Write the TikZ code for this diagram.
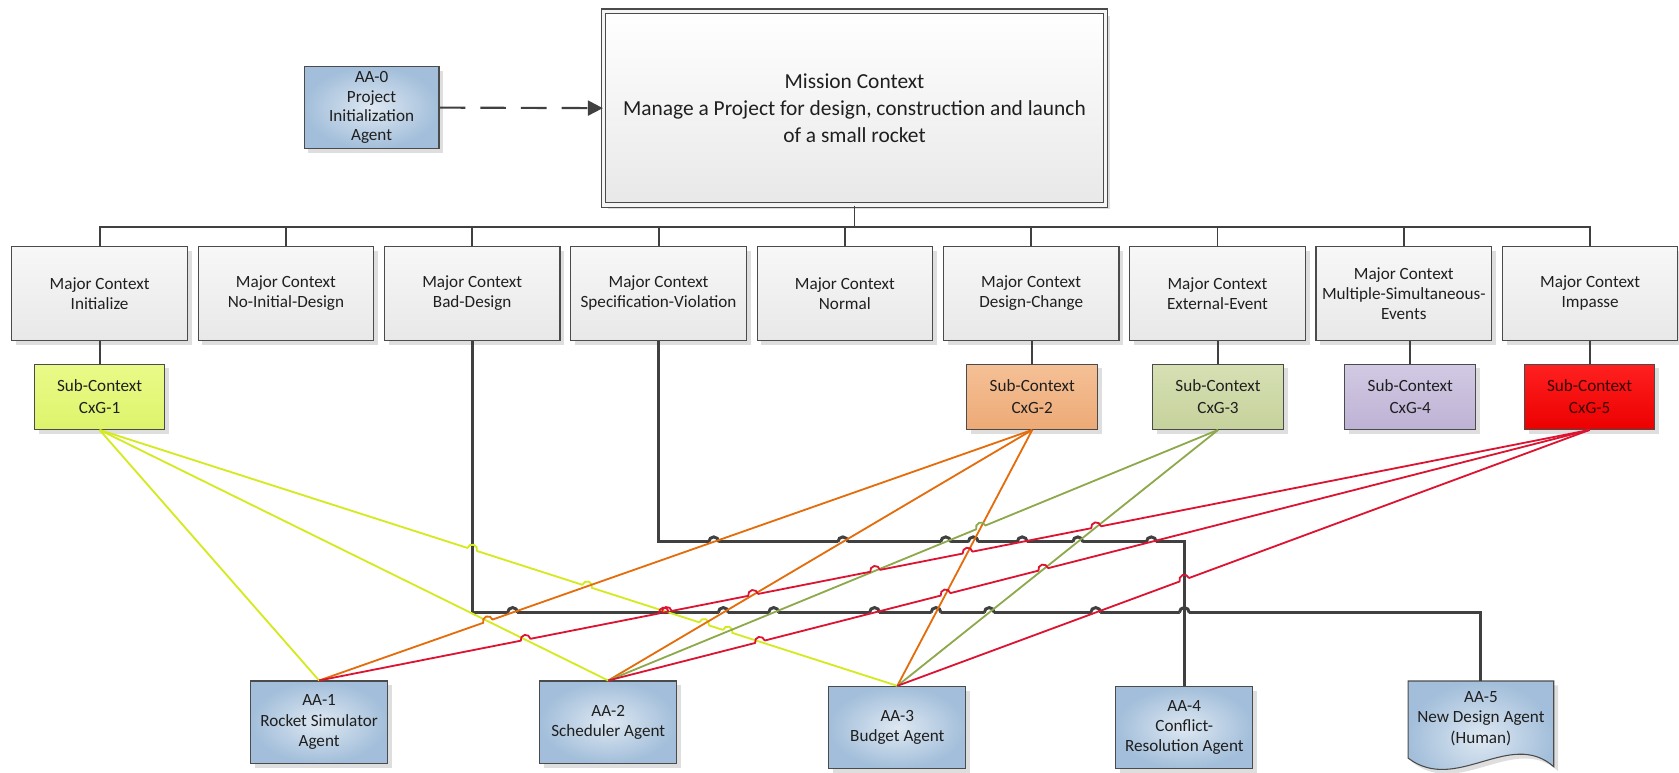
\documentclass[tikz,border=0pt]{standalone}
\usepackage{fontspec}
\setmainfont{Carlito}
\usetikzlibrary{shadows,intersections,calc,arrows.meta}
\definecolor{dk}{RGB}{64,64,64}
\definecolor{bdr}{RGB}{75,75,75}
\definecolor{ylw}{RGB}{212,234,30}
\definecolor{org}{RGB}{228,108,10}
\definecolor{grn}{RGB}{142,168,76}
\definecolor{rd}{RGB}{220,20,50}
\definecolor{bluein}{RGB}{222,232,242}
\definecolor{blueout}{RGB}{162,190,218}
\definecolor{yA}{RGB}{234,250,136}
\definecolor{yB}{RGB}{222,244,108}
\definecolor{oA}{RGB}{245,192,150}
\definecolor{oB}{RGB}{237,170,118}
\definecolor{gA}{RGB}{214,224,180}
\definecolor{gB}{RGB}{198,210,156}
\definecolor{pA}{RGB}{210,202,228}
\definecolor{pB}{RGB}{190,178,212}
\definecolor{rA}{RGB}{255,32,32}
\definecolor{rB}{RGB}{236,0,0}
\definecolor{rtext}{RGB}{60,0,0}
\newcommand\hopr{2.3pt}
\newcommand\ix[2]{\path[name intersections={of=#1 and #2, by={#1x#2}}];}
\newcommand\hopline[5]{%
  \begin{scope}
    \clip (0,800) -- (1700,800) -- (1700,-80) -- (0,-80) -- cycle
      \foreach \h in {#5} {(\h) ++(\hopr,0pt) arc[start angle=0,end angle=-360,radius=\hopr]};
    \draw[#1] #2;
  \end{scope}
  \foreach \h in {#5}{
    \draw[#1] let \p1=($(#4)-(#3)$), \n1={atan2(\y1,\x1)} in
      ($(\h)+(\n1+180:\hopr)$) arc[start angle=\n1+180, end angle=\n1, radius=\hopr];
  }%
}
\tikzset{
  box/.style={draw=bdr, line width=0.5pt, inner sep=0pt, align=center,
    font=\fontsize{8}{9.3}\selectfont, text=black!88,
    general shadow={fill=black!13, shadow xshift=2pt, shadow yshift=-2pt}},
  major/.style={box, minimum width=82pt, minimum height=44pt, top color=white!97!black, bottom color=black!9},
  sub/.style={box, minimum width=61pt, minimum height=30.5pt, font=\fontsize{8}{10}\selectfont},
  agent/.style={box, minimum width=64pt, minimum height=38.5pt, inner color=bluein, outer color=blueout, font=\fontsize{8}{9.5}\selectfont},
  tree/.style={draw=dk, line width=0.9pt},
  dline/.style={draw=dk, line width=1.4pt},
  cl/.style={line width=0.85pt},
}
\begin{document}
\begin{tikzpicture}[x=0.5pt,y=-0.5pt]
\useasboundingbox (0,0) rectangle (1568,721);

% mission and AA-0
\node[box, minimum width=234.5pt, minimum height=90.5pt, top color=white, bottom color=black!9,
  double=white!96!black, double distance=1.6pt, font=\fontsize{10}{12.5}\selectfont] (mis) at (798,101)
  {Mission Context\\Manage a Project for design, construction and launch\\of a small rocket};
\node[agent, minimum width=63pt, font=\fontsize{8}{9}\selectfont] (a0) at (347,100.5) {AA-0\\Project\\Initialization\\Agent};
\draw[draw=dk, line width=1pt, dash pattern=on 12pt off 7pt, -{Triangle[length=7pt,width=7pt]}] (a0.east) -- (mis.west);

% major contexts
\node[major] (m1) at (93,274) {Major Context\\Initialize};
\node[major] (m2) at (267,274) {Major Context\\No-Initial-Design};
\node[major] (m3) at (441,274) {Major Context\\Bad-Design};
\node[major] (m4) at (615,274) {Major Context\\Specification-Violation};
\node[major] (m5) at (789,274) {Major Context\\Normal};
\node[major] (m6) at (963,274) {Major Context\\Design-Change};
\node[major] (m7) at (1137,274) {Major Context\\External-Event};
\node[major] (m8) at (1311,274) {Major Context\\Multiple-Simultaneous-\\Events};
\node[major] (m9) at (1485,274) {Major Context\\Impasse};

% sub contexts
\node[sub, top color=yA, bottom color=yB] (s1) at (93,370.5) {Sub-Context\\CxG-1};
\node[sub, top color=oA, bottom color=oB] (s2) at (964,370.5) {Sub-Context\\CxG-2};
\node[sub, top color=gA, bottom color=gB] (s3) at (1137.5,370.5) {Sub-Context\\CxG-3};
\node[sub, top color=pA, bottom color=pB] (s4) at (1317,370.5) {Sub-Context\\CxG-4};
\node[sub, top color=rA, bottom color=rB, text=rtext] (s5) at (1484.5,370.5) {Sub-Context\\CxG-5};

% agents
\node[agent] (a1) at (298,674.5) {AA-1\\Rocket Simulator\\Agent};
\node[agent] (a2) at (568,674.5) {AA-2\\Scheduler Agent};
\node[agent] (a3) at (838,679.5) {AA-3\\Budget Agent};
\node[agent] (a4) at (1106,679.5) {AA-4\\Conflict-\\Resolution Agent};
\path[draw=bdr, line width=0.5pt, inner color=bluein, outer color=blueout,
  general shadow={fill=black!13, shadow xshift=2pt, shadow yshift=-2pt}]
  (1315,636) -- (1451,636) -- (1451,716) .. controls (1410,680) and (1360,742) .. (1315,708) -- cycle;
\coordinate (a5top) at (1383,636);
\node[align=center, font=\fontsize{8}{9.5}\selectfont, text=black!88] (a5) at (1383,671) {AA-5\\New Design Agent\\(Human)};

% tree
\coordinate (bus) at (798,212);
\draw[tree] (mis.south) -- (bus);
\draw[tree] (m1.north) |- (bus) -| (m9.north);
\foreach \m in {m2,m3,m4,m5,m6,m7,m8} \draw[tree] (\m.north) -- (\m.north |- bus);
\foreach \s/\m in {s1/m1,s2/m6,s3/m7,s4/m8,s5/m9} \draw[tree] (\s.north |- \m.south) -- (\s.north);

% connector geometry
\coordinate (d1c) at (441,572); \coordinate (d1e) at (1383,572);
\coordinate (d2c) at (615,506); \coordinate (d2e) at (1106,506);
\path[name path=D1v] (m3.south) -- (d1c);
\path[name path=D1h] (d1c) -- (d1e);
\path[name path=D2h] (d2c) -- (d2e);
\path[name path=D2v] (d2e) -- (a4.north);
\path[name path=Y1b] (s1.south) -- (a2.north);
\path[name path=Y1c] (s1.south) -- (a3.north);
\path[name path=O2a] (s2.south) -- (a1.north);
\path[name path=O2b] (s2.south) -- (a2.north);
\path[name path=O2c] (s2.south) -- (a3.north);
\path[name path=G3b] (s3.south) -- (a2.north);
\path[name path=G3c] (s3.south) -- (a3.north);
\path[name path=R5a] (s5.south) -- (a1.north);
\path[name path=R5b] (s5.south) -- (a2.north);
\path[name path=R5c] (s5.south) -- (a3.north);

\ix{D2h}{O2a}\ix{D2h}{O2b}\ix{D2h}{O2c}\ix{D2h}{G3b}\ix{D2h}{R5a}\ix{D2h}{G3c}\ix{D2h}{R5b}
\ix{D1h}{O2a}\ix{D1h}{O2b}\ix{D1h}{G3b}\ix{D1h}{R5b}\ix{D1h}{O2c}\ix{D1h}{G3c}\ix{D1h}{R5c}\ix{D1h}{D2v}
\ix{Y1c}{D1v}\ix{Y1c}{O2a}\ix{Y1c}{O2b}\ix{Y1c}{G3b}
\ix{O2a}{Y1b}
\ix{G3b}{O2c}
\ix{R5a}{Y1b}\ix{R5a}{D1h}\ix{R5a}{Y1c}\ix{R5a}{O2b}\ix{R5a}{G3b}\ix{R5a}{O2c}\ix{R5a}{G3c}
\ix{R5b}{Y1c}\ix{R5b}{O2c}\ix{R5b}{G3c}
\ix{R5c}{D2v}

% dark connectors
\hopline{dline}{(m4.south) |- (d2e) -- (a4.north)}{d2c}{d2e}{D2hxO2a,D2hxO2b,D2hxO2c,D2hxG3b,D2hxR5a,D2hxG3c,D2hxR5b}
\hopline{dline}{(m3.south) |- (d1e) -- (a5top)}{d1c}{d1e}{D1hxO2a,D1hxO2b,D1hxG3b,D1hxR5b,D1hxO2c,D1hxG3c,D1hxR5c,D1hxD2v}

% CxG-1 (yellow)
\draw[cl, draw=ylw] (s1.south) -- (a1.north);
\draw[cl, draw=ylw] (s1.south) -- (a2.north);
\hopline{cl, draw=ylw}{(s1.south) -- (a3.north)}{s1.south}{a3.north}{Y1cxD1v,Y1cxO2a,Y1cxO2b,Y1cxG3b}

% CxG-2 (orange)
\hopline{cl, draw=org}{(s2.south) -- (a1.north)}{a1.north}{s2.south}{O2axY1b}
\draw[cl, draw=org] (s2.south) -- (a2.north);
\draw[cl, draw=org] (s2.south) -- (a3.north);

% CxG-3 (green)
\hopline{cl, draw=grn}{(s3.south) -- (a2.north)}{a2.north}{s3.south}{G3bxO2c}
\draw[cl, draw=grn] (s3.south) -- (a3.north);

% CxG-5 (red)
\hopline{cl, draw=rd}{(s5.south) -- (a1.north)}{a1.north}{s5.south}{R5axY1b,R5axD1h,R5axY1c,R5axO2b,R5axG3b,R5axO2c,R5axG3c}
\hopline{cl, draw=rd}{(s5.south) -- (a2.north)}{a2.north}{s5.south}{R5bxY1c,R5bxO2c,R5bxG3c}
\hopline{cl, draw=rd}{(s5.south) -- (a3.north)}{a3.north}{s5.south}{R5cxD2v}
\end{tikzpicture}
\end{document}
